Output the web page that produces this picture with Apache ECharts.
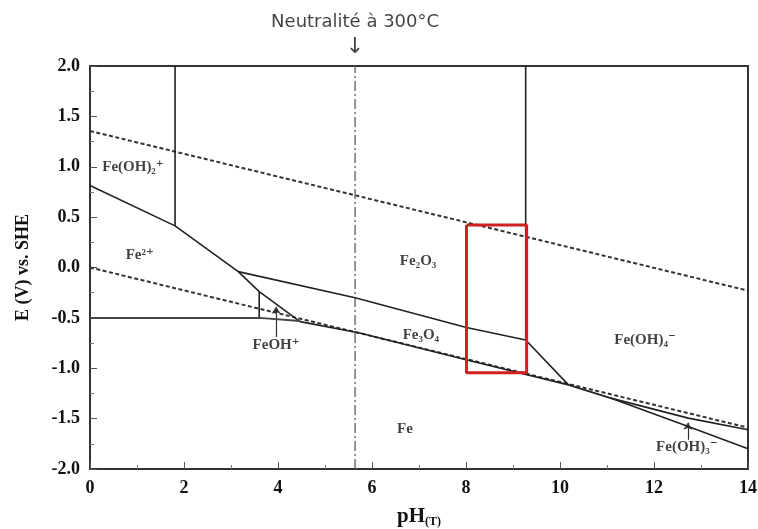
<!DOCTYPE html>
<html>
<head>
<meta charset="utf-8">
<script src="https://cdn.jsdelivr.net/npm/echarts@6/dist/echarts.min.js"></script>
<style>
html,body{margin:0;padding:0;background:#fff;}
#main{width:758px;height:529px;}
</style>
</head>
<body>
<div id="main"></div>
<script>
// pH / potential boundaries (Fe-H2O, 300°C)
var neutralPH = 5.64;
var o2Line = [[0, 1.355], [14, -0.23]];
var h2Line = [[0, 0], [14, -1.59]];
var fe3Vert = [[1.81, 2.0], [1.81, 0.413]];
var fe2Fe3Line = [[0, 0.813], [1.81, 0.413], [3.155, -0.041], [3.60, -0.239], [4.47, -0.537]];
var feohVert = [[3.60, -0.239], [3.60, -0.50]];
var fe2FeLine = [[0, -0.50], [3.60, -0.50], [4.47, -0.53]];
var hemMagLine = [[3.155, -0.041], [5.64, -0.30], [8.01, -0.595], [9.27, -0.72], [10.18, -1.165]];
var hemVert = [[9.27, 2.0], [9.27, -0.72]];
var magFeLine = [[4.47, -0.537], [5.74, -0.65], [8.0, -0.915], [10.18, -1.165], [11.06, -1.294]];
var upperHydLine = [[11.06, -1.294], [12.73, -1.495], [14, -1.611]];
var lowerHydLine = [[11.06, -1.294], [12.73, -1.578], [14, -1.80]];
var redBox = [[8.01, 0.423], [9.29, 0.423], [9.29, -1.045], [8.01, -1.045], [8.01, 0.423]];

var regionLabels = [
  [0.915, 1.0, 'Fe(OH)₂⁺'],
  [1.06, 0.12, 'Fe²⁺'],
  [6.98, 0.065, 'Fe₂O₃'],
  [7.04, -0.67, 'Fe₃O₄'],
  [3.96, -0.77, 'FeOH⁺'],
  [11.81, -0.72, 'Fe(OH)₄⁻'],
  [6.70, -1.60, 'Fe'],
  [12.70, -1.78, 'Fe(OH)₃⁻']
];
var pointerArrows = [
  [[3.96, -0.69], [3.96, -0.39]],
  [[12.72, -1.71], [12.72, -1.54]]
];
var neutralText = [[neutralPH, 2.30, '{t|Neutralité à 300°C}\n{a|↓}']];

var serif = '"Liberation Serif", "DejaVu Serif", serif';

function seg(data, color, width, type) {
  return {
    type: 'line',
    data: data,
    symbol: 'none',
    silent: true,
    animation: false,
    lineStyle: { color: color, width: width, type: type || 'solid' }
  };
}

var mychart = echarts.init(document.getElementById('main'));
mychart.setOption({
  animation: false,
  grid: {
    left: 90, top: 66, right: 10, bottom: 60,
    outerBoundsMode: 'none',
    show: true, borderColor: '#333', borderWidth: 2
  },
  xAxis: {
    type: 'value', min: 0, max: 14, interval: 2,
    name: '{a|pH}{s|(T)}',
    nameLocation: 'middle',
    nameGap: 37,
    nameTextStyle: {
      rich: {
        a: { fontFamily: serif, fontWeight: 'bold', fontSize: 21, color: '#111' },
        s: { fontFamily: serif, fontWeight: 'bold', fontSize: 12, color: '#111', padding: [10, 0, 0, 0] }
      }
    },
    splitLine: { show: false },
    axisLine: { onZero: false, lineStyle: { color: '#333', width: 2 } },
    axisTick: { inside: true, length: 7, lineStyle: { color: '#555' } },
    minorTick: { show: true, splitNumber: 2, length: 4, lineStyle: { color: '#777' } },
    axisLabel: { margin: 10, fontFamily: serif, fontWeight: 'bold', fontSize: 18, color: '#111' }
  },
  yAxis: {
    type: 'value', min: -2, max: 2, interval: 0.5,
    name: 'E (V) vs. SHE',
    nameLocation: 'middle',
    nameRotate: 90,
    nameGap: 58,
    nameTextStyle: { fontFamily: serif, fontWeight: 'bold', fontSize: 18, color: '#111' },
    splitLine: { show: false },
    axisLine: { onZero: false, lineStyle: { color: '#333', width: 2 } },
    axisTick: { inside: true, length: 7, lineStyle: { color: '#555' } },
    minorTick: { show: true, splitNumber: 2, length: 4, lineStyle: { color: '#777' } },
    axisLabel: {
      margin: 10, fontFamily: serif, fontWeight: 'bold', fontSize: 18, color: '#111',
      formatter: function (v) { return v.toFixed(1); }
    }
  },
  series: [
    seg(o2Line, '#333', 2, [4, 2.5]),
    seg(h2Line, '#333', 2, [4, 2.5]),
    seg([[neutralPH, -2], [neutralPH, 2]], '#666', 1.4, [10, 3, 2, 3]),
    seg(fe3Vert, '#222', 1.6),
    seg(fe2Fe3Line, '#222', 1.6),
    seg(feohVert, '#222', 1.6),
    seg(fe2FeLine, '#444', 2),
    seg(hemMagLine, '#222', 1.6),
    seg(hemVert, '#222', 1.6),
    seg(magFeLine, '#222', 1.6),
    seg(upperHydLine, '#222', 1.6),
    seg(lowerHydLine, '#222', 1.6),
    seg(redBox, '#d0201f', 3),
    {
      type: 'lines',
      coordinateSystem: 'cartesian2d',
      silent: true,
      clip: false,
      symbol: ['none', 'arrow'],
      symbolSize: 7,
      lineStyle: { color: '#333', width: 1.2, opacity: 1 },
      data: pointerArrows.map(function (a) { return { coords: a }; })
    },
    {
      type: 'scatter',
      symbolSize: 0,
      silent: true,
      data: regionLabels,
      label: {
        show: true, position: 'inside',
        formatter: function (p) { return p.data[2]; },
        fontFamily: serif, fontWeight: 'bold', fontSize: 15, color: '#111'
      }
    },
    {
      type: 'scatter',
      symbolSize: 0,
      silent: true,
      clip: false,
      data: neutralText,
      label: {
        show: true, position: 'inside',
        formatter: function (p) { return p.data[2]; },
        rich: {
          t: { fontFamily: '"DejaVu Sans", sans-serif', fontSize: 18, lineHeight: 24, color: '#111' },
          a: { fontFamily: '"DejaVu Sans", sans-serif', fontSize: 22, lineHeight: 26, color: '#111' }
        }
      }
    }
  ]
});
</script>
</body>
</html>
